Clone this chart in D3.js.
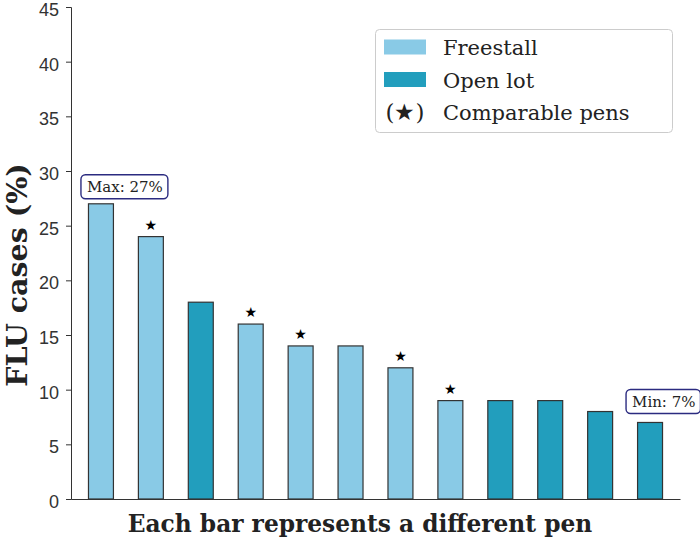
<!DOCTYPE html>
<html><head><meta charset="utf-8">
<script src="https://cdn.jsdelivr.net/npm/d3@7"></script>
<style>body{margin:0;background:#fff}svg{display:block}</style>
</head><body>
<svg id="c" width="700" height="539"></svg>
<script>
const pens = ["P1","P2","P3","P4","P5","P6","P7","P8","P9","P10","P11","P12"];
const values = [27,24,18,16,14,14,12,9,9,9,8,7];
const types = ["Freestall","Freestall","Open lot","Freestall","Freestall","Freestall","Freestall","Freestall","Open lot","Open lot","Open lot","Open lot"];
const comparable = [false,true,false,true,true,false,true,true,false,false,false,false];
const yTicks = [0,5,10,15,20,25,30,35,40,45];
const legendItems = ["Freestall","Open lot","Comparable pens"];
const colors = {"Freestall":"#89cae6","Open lot":"#229ebd"};

const svg = d3.select("#c");
const x0 = 71, x1 = 680, yTop = 7, yBot = 499;
const x = d3.scaleLinear().domain([-0.6, 11.6]).range([x0, x1]);
const y = d3.scaleLinear().domain([0,45]).range([yBot, yTop]);
const bw = x(0.5) - x(0);
const serif = "'DejaVu Serif', serif";

// bars
svg.selectAll("rect.bar").data(values).enter().append("rect")
  .attr("x",(d,i)=>x(i)-bw/2).attr("y",d=>y(d))
  .attr("width",bw).attr("height",d=>yBot-y(d))
  .attr("fill",(d,i)=>colors[types[i]]).attr("stroke","#333").attr("stroke-width",1.2);

// stars
svg.selectAll("text.star").data(values.map((v,i)=>({v,i})).filter(d=>comparable[d.i])).enter()
  .append("text").attr("x",d=>x(d.i)).attr("y",d=>y(d.v)-7)
  .attr("text-anchor","middle").attr("font-size",14).attr("fill","#000")
  .attr("font-family","'DejaVu Sans', sans-serif").text("★");

// axes
const yAxis = d3.axisLeft(y).tickValues(yTicks).tickSize(5).tickPadding(7);
const gy = svg.append("g").attr("transform",`translate(${x0},0)`).call(yAxis);
gy.selectAll("text").attr("font-size",18).attr("dy","0.47em")
  .attr("font-family","'Liberation Sans', Arial, sans-serif").attr("fill","#333");
gy.selectAll("line,path").attr("stroke","#333");
const xAxis = d3.axisBottom(x).tickValues([]).tickSizeOuter(0);
const gx = svg.append("g").attr("transform",`translate(0,${yBot})`).call(xAxis);
gx.select("path").attr("stroke","#333");

// axis labels
svg.append("text").attr("x",360).attr("y",532)
  .attr("text-anchor","middle").attr("font-family",serif).attr("font-weight","bold")
  .attr("font-size",23.3).attr("fill","#222").text("Each bar represents a different pen");
svg.append("text").attr("transform",`translate(26.5,275) rotate(-90)`)
  .attr("text-anchor","middle").attr("font-family",serif).attr("font-weight","bold")
  .attr("font-size",28.5).attr("fill","#222").text("FLU cases (%)");

// annotations
function note(i, label, gap, shift){
  const left = x(i) - shift, cy = y(values[i]) - gap;
  const g = svg.append("g");
  const t = g.append("text").attr("x",left+6).attr("y",cy+5.5)
    .attr("font-family",serif).attr("font-size",15).attr("fill","#222").text(label);
  const bb = t.node().getBBox();
  g.insert("rect","text").attr("x",left).attr("y",cy-12).attr("width",bb.width+11).attr("height",24)
    .attr("rx",4.5).attr("fill","#fff").attr("stroke","#2b2b80").attr("stroke-width",1.4);
}
const iMax = values.indexOf(d3.max(values)), iMin = values.lastIndexOf(d3.min(values));
note(iMax, `Max: ${values[iMax]}%`, 17, 20);
note(iMin, `Min: ${values[iMin]}%`, 21, 24);

// legend
const lg = svg.append("g");
lg.append("rect").attr("x",375.5).attr("y",29.5).attr("width",297).attr("height",103).attr("rx",4)
  .attr("fill","#fff").attr("stroke","#ccc");
legendItems.forEach((name,k)=>{
  const cy = 47 + k*32.5;
  if (colors[name]) {
    lg.append("rect").attr("x",384).attr("y",cy-7.5).attr("width",42).attr("height",15).attr("fill",colors[name]);
  } else {
    lg.append("text").attr("x",405).attr("y",cy+8).attr("text-anchor","middle")
      .attr("font-family",serif).attr("font-size",23).attr("fill","#222").text("(★)");
  }
  lg.append("text").attr("x",443).attr("y",cy+8).attr("font-family",serif).attr("font-size",21)
    .attr("fill","#222").text(name);
});
</script>
</body></html>
